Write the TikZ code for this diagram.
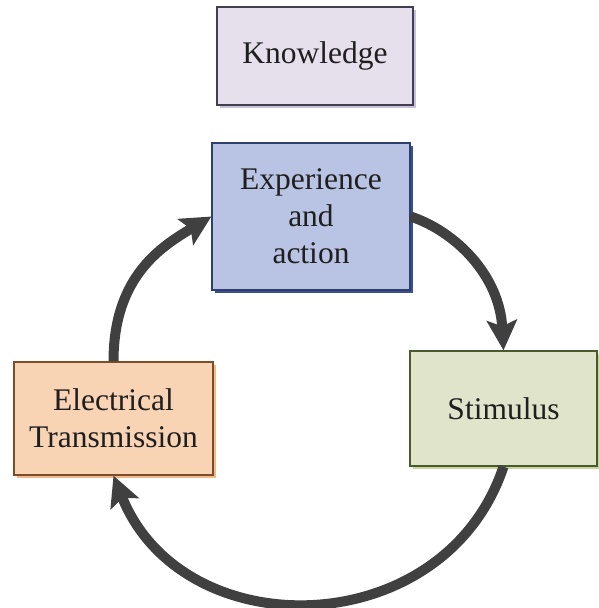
\documentclass[tikz,border=0pt]{standalone}
\usepackage{fontspec}
\setmainfont{Liberation Serif}
\usetikzlibrary{arrows.meta,shadows}
\definecolor{knowfill}{HTML}{E5E0EC}
\definecolor{knowdraw}{HTML}{404050}
\definecolor{knowshad}{HTML}{C9C1DA}
\definecolor{expfill}{HTML}{B9C3E3}
\definecolor{expdraw}{HTML}{2D3F6E}
\definecolor{expshad}{HTML}{3A4F8C}
\definecolor{elefill}{HTML}{F8D4B5}
\definecolor{eledraw}{HTML}{7A4E2C}
\definecolor{eleshad}{HTML}{F4B98A}
\definecolor{stifill}{HTML}{DFE4CB}
\definecolor{stidraw}{HTML}{4B5A2C}
\definecolor{stishad}{HTML}{C3D49C}
\definecolor{arrowc}{HTML}{404040}
\tikzset{
  box/.style={rectangle, line width=1.3pt, align=center, inner sep=0pt,
    font=\fontsize{31.5}{37}\selectfont, text=black!88},
  flow/.style={draw=arrowc, line width=10pt,
    -{Stealth[length=30pt,width=30pt,inset=6pt]}},
}
\begin{document}
\begin{tikzpicture}[x=1pt,y=1pt]
\useasboundingbox (0,0) rectangle (598,-608);
\node[box, draw=knowdraw, fill=knowfill, minimum width=196pt, minimum height=98pt,
  drop shadow={shadow xshift=3pt,shadow yshift=-3pt,fill=knowshad,opacity=1}]
  (know) at (315,-56) {Knowledge};
\node[box, draw=expdraw, fill=expfill, minimum width=198pt, minimum height=147pt,
  drop shadow={shadow xshift=2.5pt,shadow yshift=-2.5pt,fill=expshad,opacity=1}]
  (exp) at (311,-216.5) {Experience\\and\\action};
\node[box, draw=eledraw, fill=elefill, minimum width=199pt, minimum height=113pt,
  drop shadow={shadow xshift=2.5pt,shadow yshift=-2.5pt,fill=eleshad,opacity=1}]
  (ele) at (113.5,-418.5) {Electrical\\Transmission};
\node[box, draw=stidraw, fill=stifill, minimum width=187pt, minimum height=115pt,
  drop shadow={shadow xshift=2.5pt,shadow yshift=-2.5pt,fill=stishad,opacity=1}]
  (sti) at (503.5,-408.5) {Stimulus};
\draw[flow] (ele.north) .. controls +(0,85) and +(-50,-30) .. (exp.west);
\draw[flow] (exp.east) .. controls +(45,-15) and +(-4,75) .. (sti.north);
\draw[flow] (sti.south) .. controls +(-59,-177) and +(69,-173) .. (ele.south);
\end{tikzpicture}
\end{document}
